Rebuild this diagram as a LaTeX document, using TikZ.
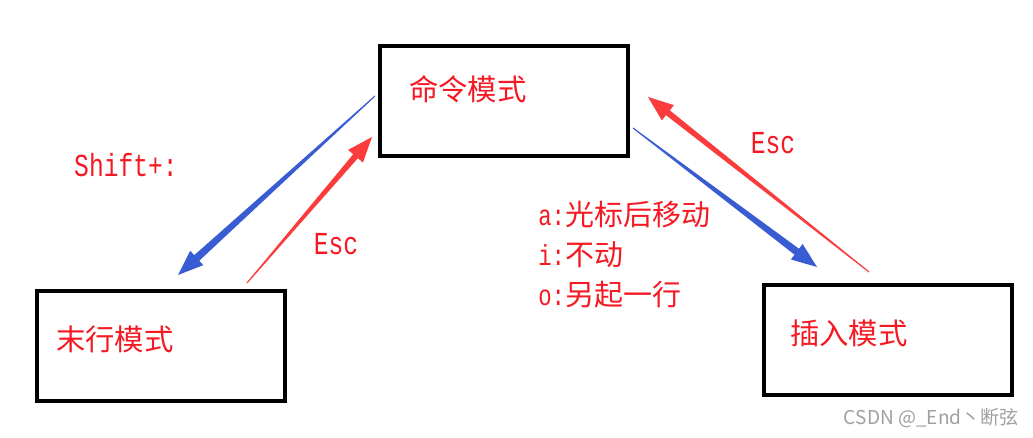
\documentclass[tikz,border=0pt]{standalone}
\usepackage{fontspec}
\usetikzlibrary{calc}
\newfontfamily\cjk{Noto Sans CJK SC}
\newfontfamily\mono[FakeStretch=0.77]{Liberation Mono}
\definecolor{txtred}{RGB}{245,25,35}
\definecolor{arrred}{RGB}{250,60,60}
\definecolor{arrblue}{RGB}{58,92,210}
\definecolor{wmgray}{RGB}{160,160,160}
% tapered arrow: colour, tail, tip, shaft half width
\newcommand\taparrow[4]{%
  \fill[#1] ($(#2)!0.4pt!90:(#3)$)
    -- ($(#3)!19pt!(#2)!#4!-90:(#2)$)
    -- ($(#3)!19pt!(#2)!7.3pt!-90:(#2)$)
    -- (#3)
    -- ($(#3)!19pt!(#2)!7.3pt!90:(#2)$)
    -- ($(#3)!19pt!(#2)!#4!90:(#2)$)
    -- ($(#2)!0.4pt!-90:(#3)$) -- cycle;}
\tikzset{
  modebox/.style={draw=black, line width=3pt, minimum width=186pt, minimum height=82.5pt, inner sep=0pt},
  cjklabel/.style={text=txtred, inner sep=0pt, font=\cjk\fontsize{22pt}{26pt}\selectfont},
  monolabel/.style={text=txtred, inner sep=0pt, font=\mono\fontsize{24pt}{28pt}\selectfont},
  listlabel/.style={text=txtred, inner sep=0pt, anchor=west, font=\fontsize{21.75pt}{26pt}\selectfont},
}
\begin{document}
\begin{tikzpicture}[x=0.75pt, y=-0.75pt]
  \fill[white] (0,0) rectangle (1033,438);
  \useasboundingbox (0,0) rectangle (1033,438);

  % boxes
  \node[modebox] (cmd) at (503.5,101) {};
  \node[modebox] (last) at (161,346) {};
  \node[modebox] (ins) at (888,340) {};

  \node[cjklabel, anchor=west] (cmdt) at (409,89) {命令模式};
  \node[cjklabel, anchor=west] (lastt) at (56,339) {末行模式};
  \node[cjklabel, anchor=west] (inst) at (790,333) {插入模式};

  % arrow end points
  \coordinate (b1t) at (375,96);
  \coordinate (b1h) at (178,275);
  \coordinate (r1t) at (247,283);
  \coordinate (r1h) at (372,137);
  \coordinate (r2t) at (869,272);
  \coordinate (r2h) at (648,97);
  \coordinate (b2t) at (633,128);
  \coordinate (b2h) at (817,267);

  \taparrow{arrblue}{b1t}{b1h}{2.8pt}
  \taparrow{arrred}{r1t}{r1h}{2.3pt}
  \taparrow{arrred}{r2t}{r2h}{2.3pt}
  \taparrow{arrblue}{b2t}{b2h}{2.8pt}

  % labels
  \node[monolabel] (shift) at (126,165) {Shift+:};
  \node[monolabel] (esc1) at (336,244) {Esc};
  \node[monolabel] (esc2) at (773,143) {Esc};

  \node[listlabel] (la) at (538,215) {{\mono a:}{\cjk 光标后移动}};
  \node[listlabel] (li) at (538,255) {{\mono i:}{\cjk 不动}};
  \node[listlabel] (lo) at (538,295) {{\mono o:}{\cjk 另起一行}};

  % watermark
  \node[text=wmgray, inner sep=0pt, anchor=east, font=\cjk\fontsize{14.3pt}{17pt}\selectfont] (wm) at (1019,418) {CSDN @\_End丶断弦};
\end{tikzpicture}
\end{document}
